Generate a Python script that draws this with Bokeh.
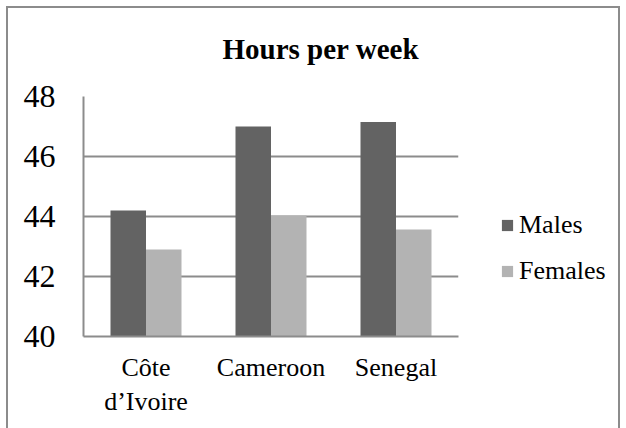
from bokeh.plotting import figure
from bokeh.models import FactorRange, Legend, LegendItem, ColumnDataSource
from bokeh.transform import dodge
from bokeh.embed import file_html
from bokeh.resources import INLINE

countries = ["Côte\nd’Ivoire", "Cameroon", "Senegal"]
males = [44.2, 47.0, 47.15]
females = [42.9, 44.03, 43.57]
y_ticks = [40, 42, 44, 46, 48]
series = ["Males", "Females"]
colors = ["#636363", "#b3b3b3"]

src = ColumnDataSource(dict(country=countries, males=males, females=females))

g = "linear-gradient(#8c8c8c,#8c8c8c)"
bg = (f"{g} 6px 6px / 2px 100% no-repeat, "
      f"{g} 6px 6px / 614px 2px no-repeat, "
      f"{g} 618px 6px / 2px 100% no-repeat, white")

p = figure(x_range=FactorRange(*countries), y_range=(40, 48),
           frame_width=375, frame_height=240, output_backend="svg", toolbar_location=None,
           min_border_left=83, min_border_right=162, min_border_top=96, min_border_bottom=92,
           title="Hours per week",
           styles={"background": bg})
p.border_fill_color = None
p.background_fill_color = "white"

r1 = p.vbar(x=dodge("country", -0.142, range=p.x_range), top="males", bottom=40,
            width=0.284, fill_color=colors[0], line_color=None, source=src)
r2 = p.vbar(x=dodge("country", 0.142, range=p.x_range), top="females", bottom=40,
            width=0.284, fill_color=colors[1], line_color=None, source=src)

legend = Legend(items=[LegendItem(label=series[0], renderers=[r1]),
                       LegendItem(label=series[1], renderers=[r2])],
                location=(42, 50))
legend.background_fill_alpha = 0
legend.border_line_color = None
legend.padding = 0
legend.margin = 0
legend.glyph_width = 14
legend.glyph_height = 14
legend.label_text_font = "Liberation Serif"
legend.label_text_font_size = "26px"
legend.label_text_color = "black"
legend.spacing = 16
legend.label_standoff = 5
p.add_layout(legend, "right")

p.title.text_font = "Liberation Serif"
p.title.text_font_size = "29px"
p.title.text_font_style = "bold"
p.title.text_color = "black"
p.title.align = "left"
p.title.vertical_align = "top"
p.title.offset = 139
p.title.standoff = 60

p.yaxis.ticker = y_ticks
p.yaxis.axis_line_color = "#8c8c8c"
p.yaxis.axis_line_width = 2
p.yaxis.major_tick_line_color = None
p.yaxis.minor_tick_line_color = None
p.yaxis.major_label_text_font = "Liberation Serif"
p.yaxis.major_label_text_font_size = "32px"
p.yaxis.major_label_text_color = "black"
p.yaxis.major_label_standoff = 22

p.xaxis.axis_line_color = "#8c8c8c"
p.xaxis.axis_line_width = 2
p.xaxis.major_tick_line_color = None
p.xaxis.minor_tick_line_color = None
p.xaxis.major_label_text_font = "Liberation Serif"
p.xaxis.major_label_text_font_size = "26px"
p.xaxis.major_label_text_color = "black"
p.xaxis.major_label_standoff = 10

p.xgrid.grid_line_color = None
p.ygrid.grid_line_color = "#8c8c8c"
p.ygrid.grid_line_width = 2
p.outline_line_color = None

open("out.html", "w").write(file_html(p, INLINE))
